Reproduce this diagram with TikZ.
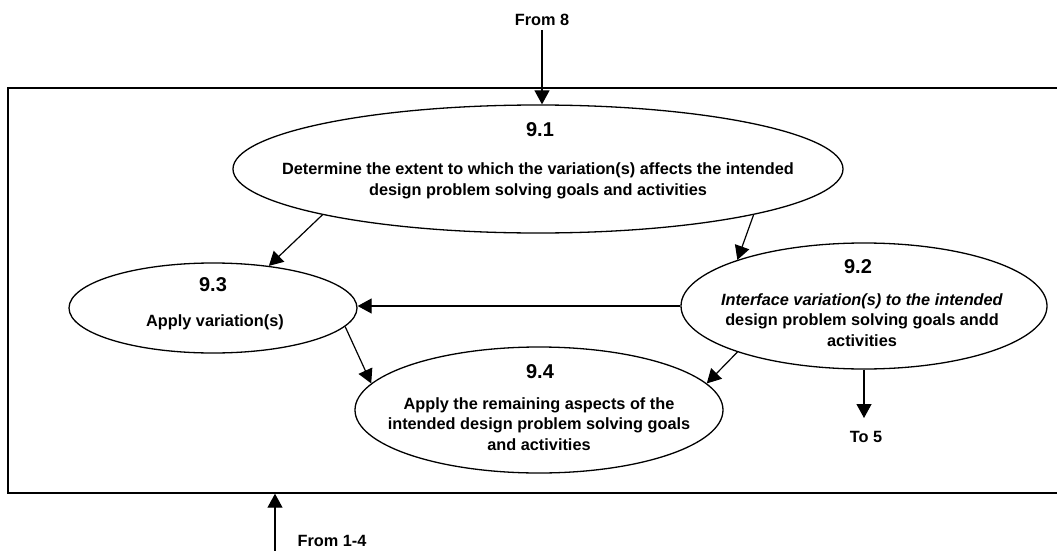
\documentclass[tikz,border=0pt]{standalone}
\usepackage{fontspec}
\setmainfont{Liberation Sans}
\usetikzlibrary{shapes.geometric,arrows.meta}

\begin{document}
\begin{tikzpicture}[x=1pt,y=-1pt,
  proc/.style={ellipse,draw,line width=1.3pt,inner sep=0pt},
  num/.style={font=\fontsize{20}{24}\selectfont\bfseries,inner sep=0pt},
  txt/.style={font=\fontsize{16.3}{20.5}\selectfont\bfseries,align=center,inner sep=0pt},
  arr/.style={-{Triangle[length=14pt,width=15pt]},line width=1.2pt},
  frame/.style={draw,line width=1.4pt,inner sep=0pt}]

  % page area
  \clip (0,0) rectangle (1057,551);
  \fill[white] (0,0) rectangle (1057,551);

  % enclosing box (its right side runs past the page edge)
  \node[frame,minimum width=1060pt,minimum height=405pt] (box) at (538,290.5) {};

  % processes
  \node[proc,minimum width=610pt,minimum height=128pt] (e91) at (538,169) {};
  \node[proc,minimum width=366pt,minimum height=126pt] (e92) at (864,306) {};
  \node[proc,minimum width=288pt,minimum height=90pt]  (e93) at (213,308) {};
  \node[proc,minimum width=368pt,minimum height=126pt] (e94) at (539,410) {};

  % process numbers and descriptions
  \node[num] (n91) at (540,130) {9.1};
  \node[txt] (t91) at (538,181) {Determine the extent to which the variation(s) affects the intended\\design problem solving goals and activities};

  \node[num] (n92) at (858,267) {9.2};
  \node[txt] (t92) at (862,320) {\textit{Interface variation(s) to the intended}\\design problem solving goals andd\\activities};

  \node[num] (n93) at (213,285) {9.3};
  \node[txt] (t93) at (215,322) {Apply variation(s)};

  \node[num] (n94) at (540,372) {9.4};
  \node[txt] (t94) at (539,424) {Apply the remaining aspects of the\\intended design problem solving goals\\and activities};

  % external flows
  \node[txt] (from8) at (542,20) {From 8};
  \coordinate (f8) at (542,30);
  \draw[arr] (f8) -- (f8 |- e91.north);

  \coordinate (c14) at (275,551);
  \draw[arr] (c14) -- (c14 |- box.south);
  \node[txt] (from14) at (332,541) {From 1-4};

  \coordinate (c5) at (864,418);
  \draw[arr] (e92.south) -- (c5);
  \node[txt] (to5) at (866,437) {To 5};

  % internal flows
  \draw[arr] (e91.192) -- (e93.37);
  \draw[arr] (e91.348) -- (e92.160);
  \draw[arr] (e92.west) -- (e92.west -| e93.east);
  \draw[arr] (e93.352) -- (e94.171);
  \draw[arr] (e92.200) -- (e94.9);
\end{tikzpicture}
\end{document}
